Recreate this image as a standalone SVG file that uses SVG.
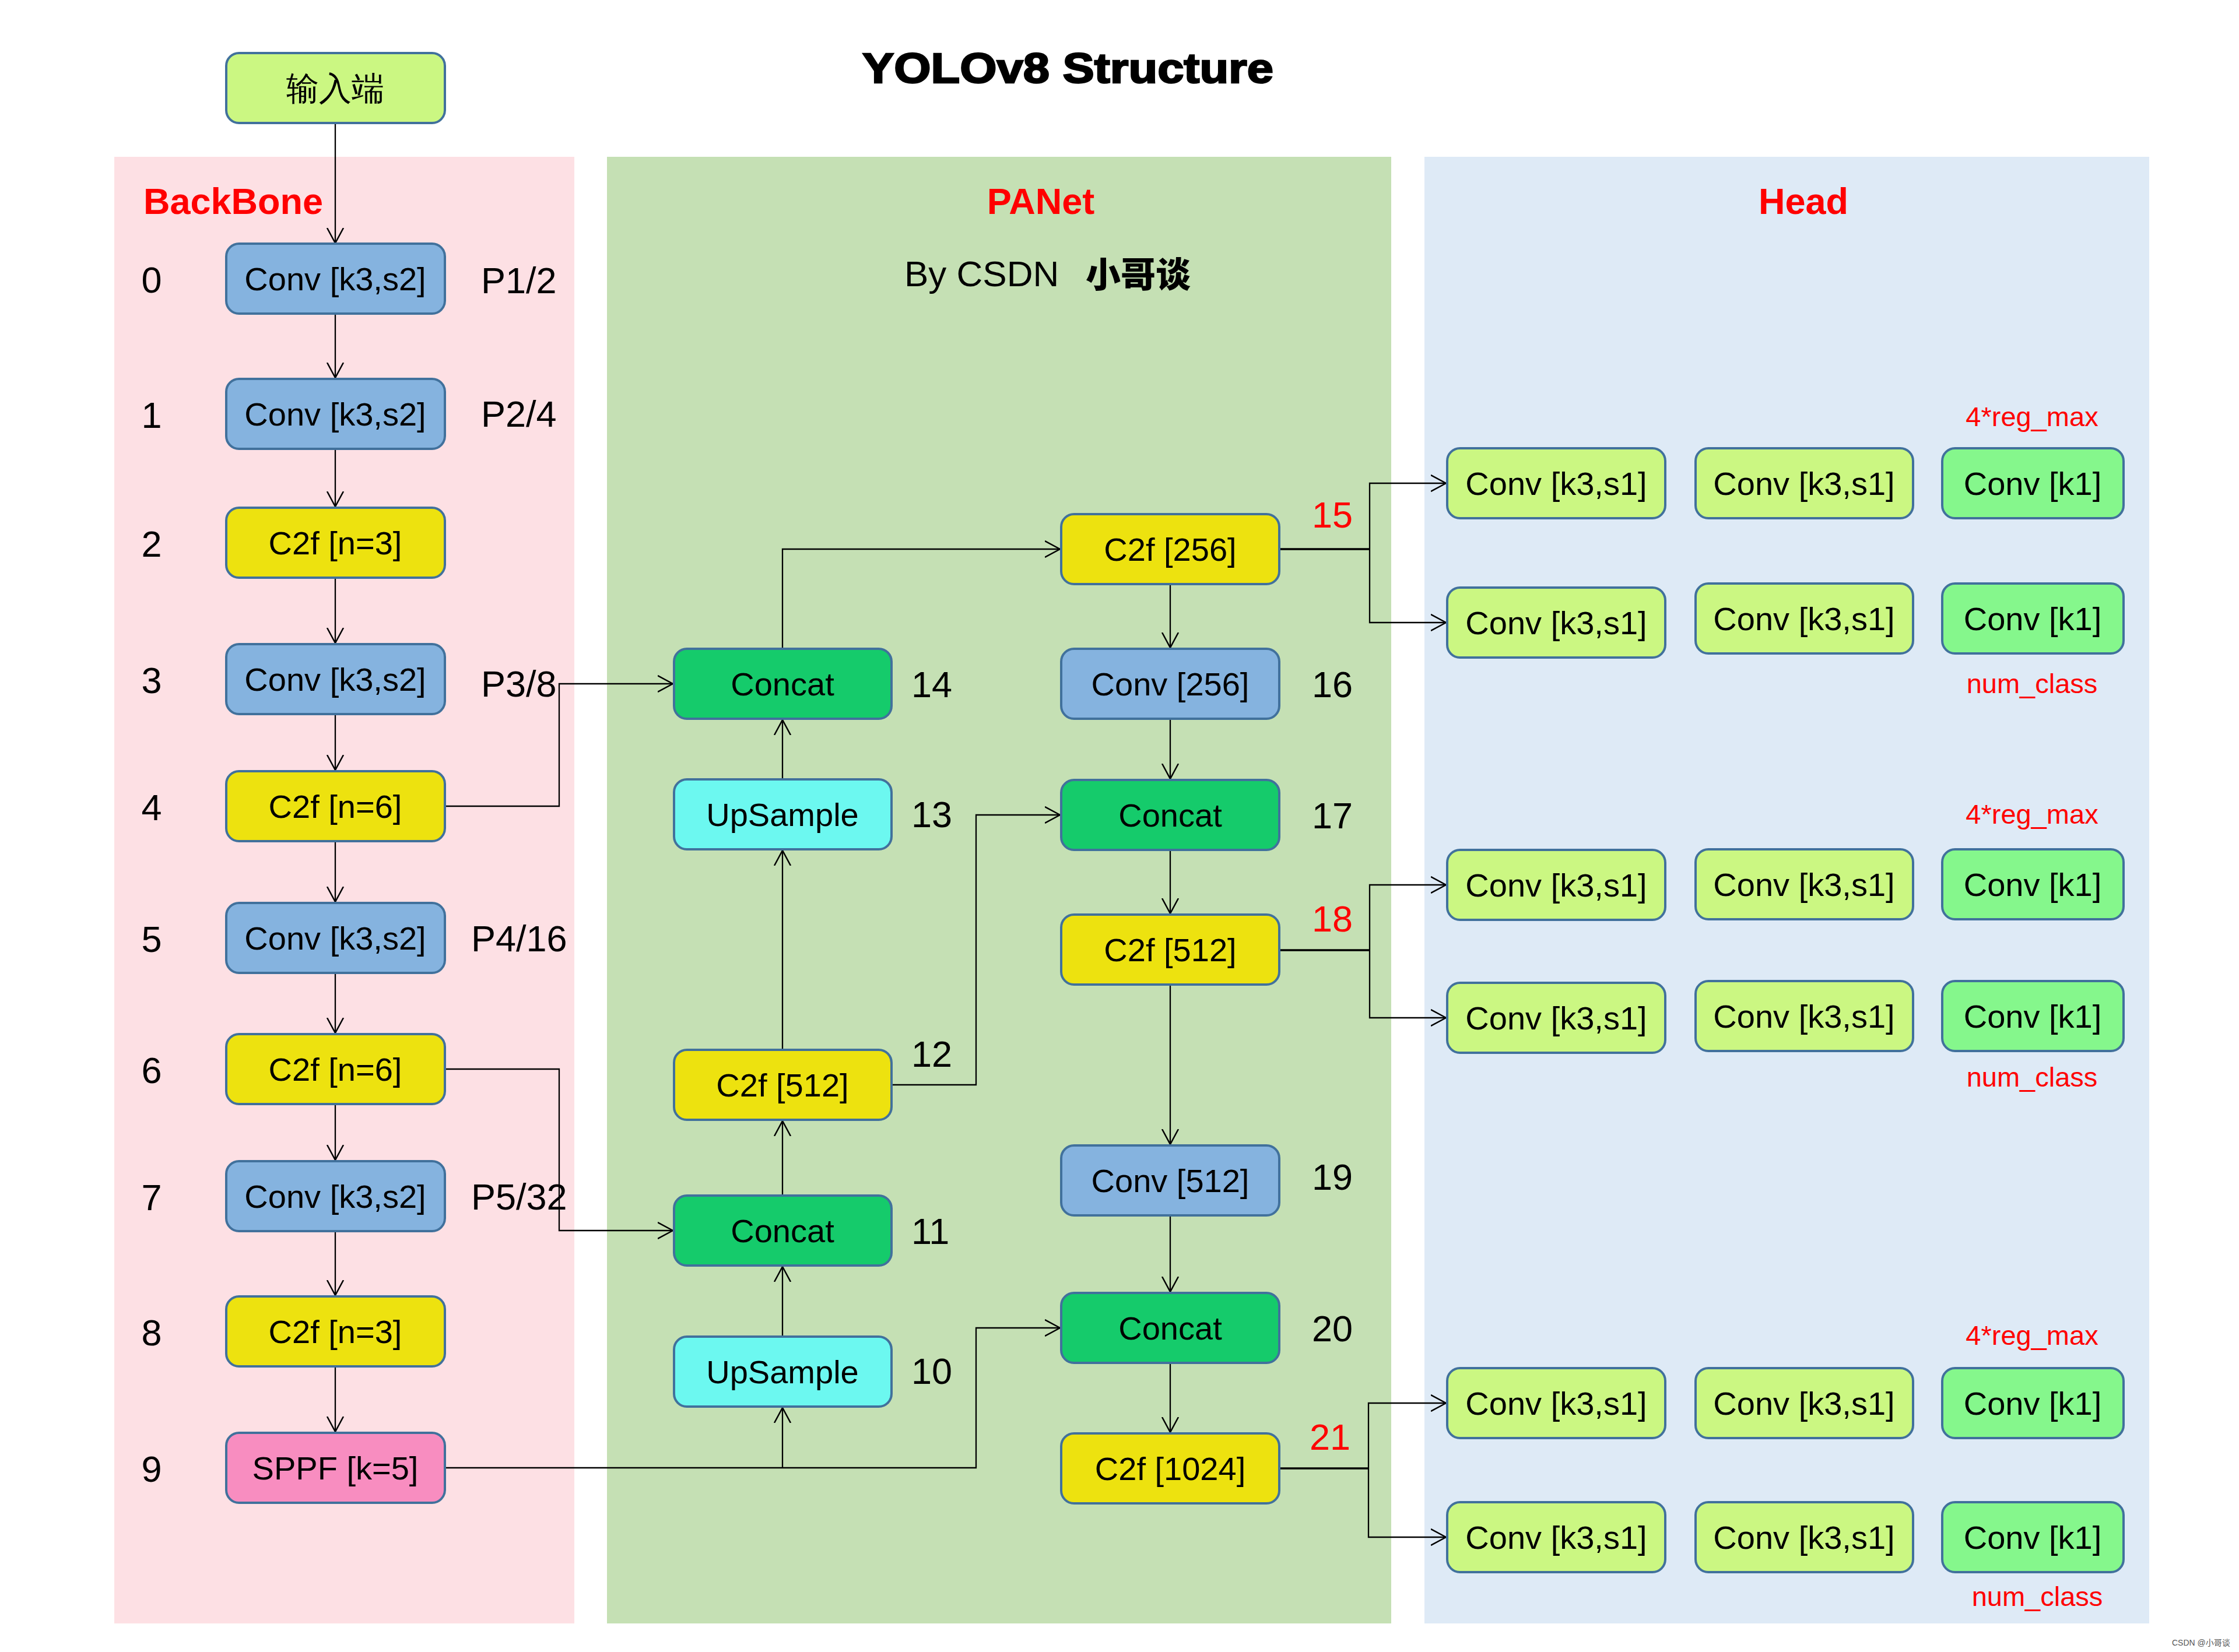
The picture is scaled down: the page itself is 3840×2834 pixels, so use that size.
<svg xmlns="http://www.w3.org/2000/svg" width="3840" height="2834" viewBox="0 0 3840 2834">
<defs>
<style>
.n rect{stroke:#41719C;stroke-width:4}
.n text{font-family:"Liberation Sans",Arial,sans-serif;font-size:56px;fill:#000;text-anchor:middle}
.cj{font-family:"Noto Sans CJK SC","Liberation Sans",sans-serif}
.lime{fill:#CBF782}.blue{fill:#85B3DF}.yel{fill:#EDE20F}.pink{fill:#F88DC0}.grn{fill:#15CB6B}.cyan{fill:#6CF8F0}.lg{fill:#85F78C}
.lbl{font-family:"Liberation Sans",Arial,sans-serif;font-size:63px;fill:#000}
.red{fill:#FF0000}
.sec{font-family:"Liberation Sans",Arial,sans-serif;font-size:63px;font-weight:bold;fill:#FF0000}
.hl{font-family:"Liberation Sans",Arial,sans-serif;font-size:47px;fill:#FF0000;text-anchor:middle}
.e path{fill:none;stroke:#000;stroke-width:2.3}
.e path.thick{stroke-width:3.5}
</style>
<marker id="ar" markerUnits="userSpaceOnUse" viewBox="0 0 28 30" refX="26" refY="15" markerWidth="28" markerHeight="30" orient="auto">
<path d="M0,1 L26,15 L0,29" fill="none" stroke="#000" stroke-width="2.5"/>
</marker>
</defs>
<rect width="3840" height="2834" fill="#FFFFFF"/>
<!-- panels -->
<rect x="196" y="269" width="789" height="2516" fill="#FDE0E4"/>
<rect x="1041" y="269" width="1345" height="2516" fill="#C5E0B4"/>
<rect x="2443" y="269" width="1243" height="2516" fill="#DEEAF6"/>
<!-- titles -->
<text x="1479" y="142" font-family="'Liberation Sans',Arial,sans-serif" font-size="72" font-weight="900" stroke="#000" stroke-width="2.5" textLength="705" lengthAdjust="spacingAndGlyphs">YOLOv8 Structure</text>
<text class="sec" x="246" y="367">BackBone</text>
<text class="sec" x="1785" y="367" text-anchor="middle">PANet</text>
<text class="sec" x="3093" y="367" text-anchor="middle">Head</text>
<text x="1551" y="491" font-family="'Liberation Sans',Arial,sans-serif" font-size="62">By CSDN</text>
<text x="1862" y="493" font-family="'Noto Sans CJK SC',sans-serif" font-size="60" font-weight="900">小哥谈</text>
<!-- connectors -->
<g id="connectors" class="e">
<path d="M575,211 V417" marker-end="url(#ar)"/>
<path d="M575,538 V648" marker-end="url(#ar)"/>
<path d="M575,770 V869" marker-end="url(#ar)"/>
<path d="M575,991 V1103" marker-end="url(#ar)"/>
<path d="M575,1225 V1321" marker-end="url(#ar)"/>
<path d="M575,1443 V1547" marker-end="url(#ar)"/>
<path d="M575,1669 V1772" marker-end="url(#ar)"/>
<path d="M575,1894 V1990" marker-end="url(#ar)"/>
<path d="M575,2112 V2222" marker-end="url(#ar)"/>
<path d="M575,2344 V2456" marker-end="url(#ar)"/>
<path d="M763,1383 H959 V1173 H1154" marker-end="url(#ar)"/>
<path d="M763,1834 H959 V2111 H1154" marker-end="url(#ar)"/>
<path d="M763,2518 H1674 V2278 H1818" marker-end="url(#ar)"/>
<path d="M1342,2518 V2415" marker-end="url(#ar)"/>
<path d="M1342,2293 V2173" marker-end="url(#ar)"/>
<path d="M1342,2051 V1923" marker-end="url(#ar)"/>
<path d="M1342,1801 V1459" marker-end="url(#ar)"/>
<path d="M1342,1337 V1235" marker-end="url(#ar)"/>
<path d="M1529,1861 H1674 V1398 H1818" marker-end="url(#ar)"/>
<path d="M1342,1113 V942 H1818" marker-end="url(#ar)"/>
<path d="M2007,1002 V1111" marker-end="url(#ar)"/>
<path d="M2007,1233 V1336" marker-end="url(#ar)"/>
<path d="M2007,1458 V1567" marker-end="url(#ar)"/>
<path d="M2007,1689 V1963" marker-end="url(#ar)"/>
<path d="M2007,2085 V2216" marker-end="url(#ar)"/>
<path d="M2007,2338 V2457" marker-end="url(#ar)"/>
<path class="thick" d="M2194,942 H2349"/>
<path d="M2349,942 V829 H2480" marker-end="url(#ar)"/>
<path d="M2349,942 V1068 H2480" marker-end="url(#ar)"/>
<path class="thick" d="M2194,1630 H2349"/>
<path d="M2349,1630 V1518 H2480" marker-end="url(#ar)"/>
<path d="M2349,1630 V1746 H2480" marker-end="url(#ar)"/>
<path class="thick" d="M2194,2519 H2347"/>
<path d="M2347,2519 V2407 H2480" marker-end="url(#ar)"/>
<path d="M2347,2519 V2637 H2480" marker-end="url(#ar)"/>
</g>
<!-- input -->
<g id="input" class="n"><rect class="lime" x="388" y="91" width="375" height="120" rx="22"/><text class="cj" x="575" y="171">输入端</text></g>
<!-- backbone -->
<g id="b0" class="n"><rect class="blue" x="388" y="418" width="375" height="120" rx="22"/><text x="575" y="498">Conv [k3,s2]</text></g>
<g id="b1" class="n"><rect class="blue" x="388" y="650" width="375" height="120" rx="22"/><text x="575" y="730">Conv [k3,s2]</text></g>
<g id="b2" class="n"><rect class="yel" x="388" y="871" width="375" height="120" rx="22"/><text x="575" y="951">C2f [n=3]</text></g>
<g id="b3" class="n"><rect class="blue" x="388" y="1105" width="375" height="120" rx="22"/><text x="575" y="1185">Conv [k3,s2]</text></g>
<g id="b4" class="n"><rect class="yel" x="388" y="1323" width="375" height="120" rx="22"/><text x="575" y="1403">C2f [n=6]</text></g>
<g id="b5" class="n"><rect class="blue" x="388" y="1549" width="375" height="120" rx="22"/><text x="575" y="1629">Conv [k3,s2]</text></g>
<g id="b6" class="n"><rect class="yel" x="388" y="1774" width="375" height="120" rx="22"/><text x="575" y="1854">C2f [n=6]</text></g>
<g id="b7" class="n"><rect class="blue" x="388" y="1992" width="375" height="120" rx="22"/><text x="575" y="2072">Conv [k3,s2]</text></g>
<g id="b8" class="n"><rect class="yel" x="388" y="2224" width="375" height="120" rx="22"/><text x="575" y="2304">C2f [n=3]</text></g>
<g id="b9" class="n"><rect class="pink" x="388" y="2458" width="375" height="120" rx="22"/><text x="575" y="2538">SPPF [k=5]</text></g>
<g id="bidx" class="lbl" text-anchor="middle">
<text x="260" y="502">0</text><text x="260" y="734">1</text><text x="260" y="955">2</text><text x="260" y="1189">3</text><text x="260" y="1407">4</text><text x="260" y="1633">5</text><text x="260" y="1858">6</text><text x="260" y="2076">7</text><text x="260" y="2308">8</text><text x="260" y="2542">9</text>
</g>
<g id="plbl" class="lbl">
<text x="825" y="503">P1/2</text><text x="825" y="732">P2/4</text><text x="825" y="1195">P3/8</text><text x="808" y="1632">P4/16</text><text x="808" y="2075">P5/32</text>
</g>
<!-- PANet col1 -->
<g id="p14" class="n"><rect class="grn" x="1156" y="1113" width="373" height="120" rx="22"/><text x="1342" y="1193">Concat</text></g>
<g id="p13" class="n"><rect class="cyan" x="1156" y="1337" width="373" height="120" rx="22"/><text x="1342" y="1417">UpSample</text></g>
<g id="p12" class="n"><rect class="yel" x="1156" y="1801" width="373" height="120" rx="22"/><text x="1342" y="1881">C2f [512]</text></g>
<g id="p11" class="n"><rect class="grn" x="1156" y="2051" width="373" height="120" rx="22"/><text x="1342" y="2131">Concat</text></g>
<g id="p10" class="n"><rect class="cyan" x="1156" y="2293" width="373" height="120" rx="22"/><text x="1342" y="2373">UpSample</text></g>
<!-- PANet col2 -->
<g id="p15" class="n"><rect class="yel" x="1820" y="882" width="374" height="120" rx="22"/><text x="2007" y="962">C2f [256]</text></g>
<g id="p16" class="n"><rect class="blue" x="1820" y="1113" width="374" height="120" rx="22"/><text x="2007" y="1193">Conv [256]</text></g>
<g id="p17" class="n"><rect class="grn" x="1820" y="1338" width="374" height="120" rx="22"/><text x="2007" y="1418">Concat</text></g>
<g id="p18" class="n"><rect class="yel" x="1820" y="1569" width="374" height="120" rx="22"/><text x="2007" y="1649">C2f [512]</text></g>
<g id="p19" class="n"><rect class="blue" x="1820" y="1965" width="374" height="120" rx="22"/><text x="2007" y="2045">Conv [512]</text></g>
<g id="p20" class="n"><rect class="grn" x="1820" y="2218" width="374" height="120" rx="22"/><text x="2007" y="2298">Concat</text></g>
<g id="p21" class="n"><rect class="yel" x="1820" y="2459" width="374" height="120" rx="22"/><text x="2007" y="2539">C2f [1024]</text></g>
<g id="pidx" class="lbl">
<text x="1563" y="1196">14</text><text x="1563" y="1419">13</text><text x="1563" y="1830">12</text><text x="1563" y="2134">11</text><text x="1563" y="2374">10</text>
<text class="red" x="2250" y="905">15</text><text x="2250" y="1196">16</text><text x="2250" y="1421">17</text><text class="red" x="2250" y="1598">18</text><text x="2250" y="2041">19</text><text x="2250" y="2301">20</text><text class="red" x="2246" y="2487">21</text>
</g>
<!-- Head group 1 -->
<g id="h1a1" class="n"><rect class="lime" x="2482" y="769" width="374" height="120" rx="22"/><text x="2669" y="849">Conv [k3,s1]</text></g>
<g id="h1a2" class="n"><rect class="lime" x="2908" y="769" width="373" height="120" rx="22"/><text x="3094" y="849">Conv [k3,s1]</text></g>
<g id="h1a3" class="n"><rect class="lg" x="3331" y="769" width="311" height="120" rx="22"/><text x="3486" y="849">Conv [k1]</text></g>
<g id="h1b1" class="n"><rect class="lime" x="2482" y="1008" width="374" height="120" rx="22"/><text x="2669" y="1088">Conv [k3,s1]</text></g>
<g id="h1b2" class="n"><rect class="lime" x="2908" y="1001" width="373" height="120" rx="22"/><text x="3094" y="1081">Conv [k3,s1]</text></g>
<g id="h1b3" class="n"><rect class="lg" x="3331" y="1001" width="311" height="120" rx="22"/><text x="3486" y="1081">Conv [k1]</text></g>
<!-- Head group 2 -->
<g id="h2a1" class="n"><rect class="lime" x="2482" y="1458" width="374" height="120" rx="22"/><text x="2669" y="1538">Conv [k3,s1]</text></g>
<g id="h2a2" class="n"><rect class="lime" x="2908" y="1457" width="373" height="120" rx="22"/><text x="3094" y="1537">Conv [k3,s1]</text></g>
<g id="h2a3" class="n"><rect class="lg" x="3331" y="1457" width="311" height="120" rx="22"/><text x="3486" y="1537">Conv [k1]</text></g>
<g id="h2b1" class="n"><rect class="lime" x="2482" y="1686" width="374" height="120" rx="22"/><text x="2669" y="1766">Conv [k3,s1]</text></g>
<g id="h2b2" class="n"><rect class="lime" x="2908" y="1683" width="373" height="120" rx="22"/><text x="3094" y="1763">Conv [k3,s1]</text></g>
<g id="h2b3" class="n"><rect class="lg" x="3331" y="1683" width="311" height="120" rx="22"/><text x="3486" y="1763">Conv [k1]</text></g>
<!-- Head group 3 -->
<g id="h3a1" class="n"><rect class="lime" x="2482" y="2347" width="374" height="120" rx="22"/><text x="2669" y="2427">Conv [k3,s1]</text></g>
<g id="h3a2" class="n"><rect class="lime" x="2908" y="2347" width="373" height="120" rx="22"/><text x="3094" y="2427">Conv [k3,s1]</text></g>
<g id="h3a3" class="n"><rect class="lg" x="3331" y="2347" width="311" height="120" rx="22"/><text x="3486" y="2427">Conv [k1]</text></g>
<g id="h3b1" class="n"><rect class="lime" x="2482" y="2577" width="374" height="120" rx="22"/><text x="2669" y="2657">Conv [k3,s1]</text></g>
<g id="h3b2" class="n"><rect class="lime" x="2908" y="2577" width="373" height="120" rx="22"/><text x="3094" y="2657">Conv [k3,s1]</text></g>
<g id="h3b3" class="n"><rect class="lg" x="3331" y="2577" width="311" height="120" rx="22"/><text x="3486" y="2657">Conv [k1]</text></g>
<g id="hlbl">
<text class="hl" x="3485" y="731">4*reg_max</text><text class="hl" x="3485" y="1189">num_class</text>
<text class="hl" x="3485" y="1413">4*reg_max</text><text class="hl" x="3485" y="1864">num_class</text>
<text class="hl" x="3485" y="2307">4*reg_max</text><text class="hl" x="3494" y="2755">num_class</text>
</g>
<text x="3725" y="2823" font-family="'Liberation Sans','Noto Sans CJK SC',sans-serif" font-size="14" fill="#555">CSDN @小哥谈</text>
</svg>
